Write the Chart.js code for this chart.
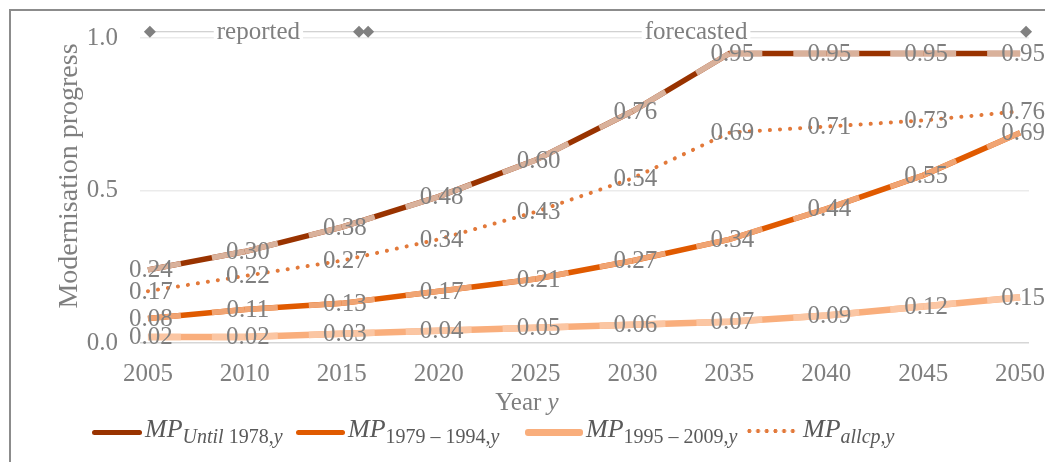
<!DOCTYPE html>
<html>
<head>
<meta charset="utf-8">
<script src="https://cdn.jsdelivr.net/npm/chart.js@4/dist/chart.umd.min.js"></script>
<style>
  body { margin: 0; background: #fff; }
  #wrap { position: relative; width: 1045px; height: 462px; overflow: hidden; }
  #frame { position: absolute; left: 9px; top: 9px; width: 1100px; height: 500px;
           border-left: 2px solid #8c8c8c; border-top: 2px solid #8c8c8c; }
  canvas { position: absolute; left: 0; top: 0; }
  .xtitle { position: absolute; top: 388px; left: 0; width: 1054px; text-align: center;
            font: 25px 'Liberation Serif', serif; color: #7f7f7f; }
  .ytitle { position: absolute; left: 68px; top: 175px; width: 400px; margin-left: -200px;
            text-align: center; line-height: 30px; margin-top: -15px; transform: rotate(-90deg);
            font: 28px 'Liberation Serif', serif; color: #7f7f7f; white-space: nowrap; }
  .math { font-family: 'Liberation Serif', serif; font-style: italic; }
  .item { position: absolute; top: 414px; height: 40px; font: italic 26px 'Liberation Serif', serif;
          color: #595959; white-space: nowrap; }
  .item sub { font-size: 20px; vertical-align: -6px; }
  .item sub .up { font-style: normal; }
  .sw { position: absolute; border-radius: 3px; }
</style>
</head>
<body>
<div id="wrap">
  <div id="frame"></div>
  <canvas id="chart" width="1045" height="462"></canvas>
  <div class="xtitle">Year <span class="math">y</span></div>
  <div class="ytitle">Modernisation progress</div>
  <div id="legend"></div>
</div>
<script>
const years = [2005, 2010, 2015, 2020, 2025, 2030, 2035, 2040, 2045, 2050];
const mpUntil1978 = [0.24, 0.30, 0.38, 0.48, 0.60, 0.76, 0.95, 0.95, 0.95, 0.95];
const mp1979to1994 = [0.08, 0.11, 0.13, 0.17, 0.21, 0.27, 0.34, 0.44, 0.55, 0.69];
const mp1995to2009 = [0.02, 0.02, 0.03, 0.04, 0.05, 0.06, 0.07, 0.09, 0.12, 0.15];
const mpAllcp = [0.17, 0.22, 0.27, 0.34, 0.43, 0.54, 0.69, 0.71, 0.73, 0.76];
const yTicks = [0, 0.5, 1.0];

// reported / forecasted period marker above the plot
const periodMarkX = [2005.1, 2015.89, 2016.36, 2050.31];
const periodMarkY = 1.021;
const periodLabels = ['reported', 'forecasted'];
const periodLabelX = [2010.7, 2033.28];

const toPoints = (vals) => vals.map((v, i) => ({ x: years[i], y: v }));

// pale ends, dark middle on every segment
const paleEnds = (ctx) => {
  let L = Math.hypot(ctx.p1.x - ctx.p0.x, ctx.p1.y - ctx.p0.y);
  let a = L * 0.34;
  return [a, L - 2 * a, a, 0];
};

const seriesDefs = [
  { label: 'until', data: mpUntil1978, color: '#993300', pale: '#d9b19b', width: 5.5 },
  { label: '1979', data: mp1979to1994, color: '#e05a00', pale: '#f0a473', width: 5.5 },
  { label: '1995', data: mp1995to2009, color: '#f9ae7c', pale: '#fbc6a3', width: 6.5 },
];

let datasets = [];
seriesDefs.forEach((s, i) => {
  datasets.push({
    label: s.label, data: toPoints(s.data), borderColor: s.color, borderWidth: s.width,
    pointRadius: 0, fill: false, tension: 0, order: 20 - i * 2, valueLabels: true,
  });
  datasets.push({
    label: s.label + '-pale', data: toPoints(s.data), borderColor: s.pale, borderWidth: s.width,
    pointRadius: 0, fill: false, tension: 0, order: 19 - i * 2,
    segment: { borderDash: paleEnds },
  });
});
datasets.push({
  label: 'allcp', data: toPoints(mpAllcp), borderColor: '#e2793a', borderWidth: 4,
  borderDash: [0.1, 10], borderCapStyle: 'round', pointRadius: 0, fill: false, tension: 0,
  order: 5, valueLabels: true,
});
datasets.push({
  label: 'period', data: periodMarkX.map((x) => ({ x: x, y: periodMarkY })),
  borderColor: '#c4c4c4', borderWidth: 1, pointStyle: 'rectRot', pointRadius: 6,
  pointBackgroundColor: '#808080', pointBorderColor: '#808080', pointBorderWidth: 0,
  clip: false, order: 1,
});

const valueLabelPlugin = {
  id: 'valueLabels',
  afterDatasetsDraw(chart) {
    let ctx = chart.ctx;
    ctx.save();
    ctx.font = '25px "Liberation Serif", serif';
    ctx.textAlign = 'center';
    ctx.textBaseline = 'middle';
    // period labels
    let xs = chart.scales.x, ys = chart.scales.y;
    periodLabels.forEach((t, i) => {
      let x = xs.getPixelForValue(periodLabelX[i]);
      let y = ys.getPixelForValue(periodMarkY);
      let w = ctx.measureText(t).width;
      ctx.fillStyle = '#fff';
      ctx.fillRect(x - w / 2 - 3, y - 8, w + 6, 16);
      ctx.fillStyle = '#7f7f7f';
      ctx.fillText(t, x, y + 1);
    });
    ctx.fillStyle = '#7f7f7f';
    chart.data.datasets.forEach((ds, di) => {
      if (!ds.valueLabels) return;
      chart.getDatasetMeta(di).data.forEach((pt, i) => {
        ctx.fillText(ds.data[i].y.toFixed(2), pt.x + 3, pt.y + 1);
      });
    });
    ctx.restore();
  },
};

new Chart(document.getElementById('chart'), {
  type: 'line',
  data: { datasets: datasets },
  options: {
    responsive: false,
    animation: false,
    layout: { padding: { left: 49, right: 16, top: 29, bottom: 0 } },
    plugins: { legend: { display: false }, tooltip: { enabled: false } },
    scales: {
      x: {
        type: 'linear', min: 2004.59, max: 2050.46,
        afterBuildTicks: (axis) => { axis.ticks = years.map((v) => ({ value: v })); },
        afterFit: (scale) => {
          scale.height = 119;
          scale.paddingLeft = 0;
          scale.paddingRight = 0;
        },
        grid: { display: false, drawTicks: false },
        border: { display: false },
        ticks: {
          padding: 16, color: '#7f7f7f', maxRotation: 0, autoSkip: false,
          font: { family: 'Liberation Serif', size: 25 },
          callback: (v) => String(v),
        },
      },
      y: {
        min: 0, max: 1.03,
        afterBuildTicks: (axis) => { axis.ticks = yTicks.map((v) => ({ value: v })); },
        afterFit: (scale) => {
          scale.width = 91;
          scale.paddingTop = 0;
          scale.paddingBottom = 0;
        },
        grid: {
          color: (c) => (c.tick && c.tick.value === 0 ? '#d6d6d6' : '#ebebeb'),
          lineWidth: 1.5, drawTicks: false,
        },
        border: { display: false },
        ticks: {
          padding: 22, color: '#7f7f7f',
          font: { family: 'Liberation Serif', size: 25 },
          callback: (v) => v.toFixed(1),
        },
      },
    },
  },
  plugins: [valueLabelPlugin],
});

// legend (html, so subscripts stay real text)
const legendItems = [
  { left: 92, sw: { w: 50, h: 5, c: '#993300' }, html: 'MP<sub><span>Until</span> <span class="up">1978,</span>y</sub>' },
  { left: 296, sw: { w: 49, h: 5, c: '#e05a00' }, html: 'MP<sub><span class="up">1979 – 1994,</span>y</sub>' },
  { left: 525, sw: { w: 58, h: 7, c: '#f9ae7c' }, html: 'MP<sub><span class="up">1995 – 2009,</span>y</sub>' },
  { left: 745, dots: true, html: 'MP<sub>allcp,y</sub>' },
];
const legend = document.getElementById('legend');
legendItems.forEach((it) => {
  let sw = document.createElement('div');
  sw.className = 'sw';
  if (it.dots) {
    sw.style.cssText = 'left:' + it.left + 'px;top:429px;width:52px;height:4px;' +
      'background:radial-gradient(circle, #e2793a 1.8px, transparent 2.2px) 0 0/8.7px 4px repeat-x;';
  } else {
    sw.style.cssText = 'left:' + it.left + 'px;top:' + (432 - it.sw.h / 2) + 'px;width:' + it.sw.w +
      'px;height:' + it.sw.h + 'px;background:' + it.sw.c + ';';
  }
  legend.appendChild(sw);
  let t = document.createElement('div');
  t.className = 'item';
  t.style.left = (it.left + (it.dots ? 58 : it.sw.w + 3)) + 'px';
  t.innerHTML = it.html;
  legend.appendChild(t);
});
</script>
</body>
</html>
